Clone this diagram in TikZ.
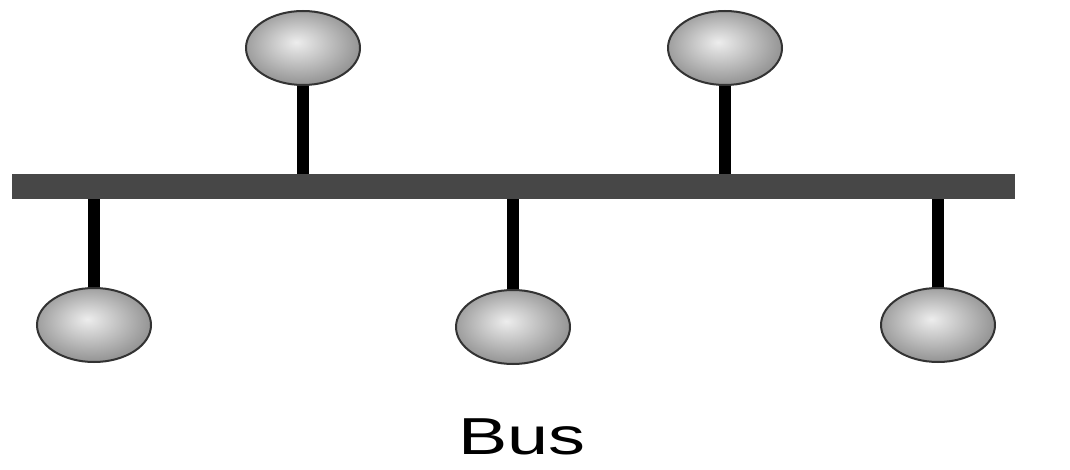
\documentclass[tikz,border=0pt]{standalone}
\usepackage{fontspec}
\setmainfont{Liberation Sans}
\usetikzlibrary{positioning,shapes.geometric}
\pgfdeclareradialshading{stationball}{\pgfpoint{-3bp}{4bp}}{%
  color(0bp)=(white!93!black); color(10bp)=(white!80!black);
  color(25bp)=(white!60!black); color(40bp)=(white!45!black);
  color(50bp)=(white!32!black)}
\tikzstyle{station}=[ellipse,minimum width=114pt,minimum height=74pt,inner sep=0pt,
  shading=stationball,draw=black!80,line width=2pt]
\tikzstyle{stem}=[line width=12pt,black]
\tikzstyle{busline}=[line width=25pt,black!72]

\begin{document}
\begin{tikzpicture}[x=1pt,y=-1pt]
    \useasboundingbox (0,0) rectangle (1070,470);

          \coordinate (bus_l) at (12,187);
          \coordinate (bus_r) at (1015,187);

          % stations
          \node[station] (s_1) at (303,48)  {};
          \node[station] (s_2) at (725,48)  {};
          \node[station] (s_3) at (94,325)  {};
          \node[station] (s_4) at (513,327) {};
          \node[station] (s_5) at (938,325) {};

          \foreach \s in {1,...,5}
            \draw[stem] (s_\s) -- (s_\s |- bus_l);

          % the bus
          \draw[busline] (bus_l) -- (bus_r);

          \node[xscale=1.42,transform shape] (label) at (522,437) {\fontsize{52}{60}\selectfont Bus};
        \end{tikzpicture}
\end{document}
